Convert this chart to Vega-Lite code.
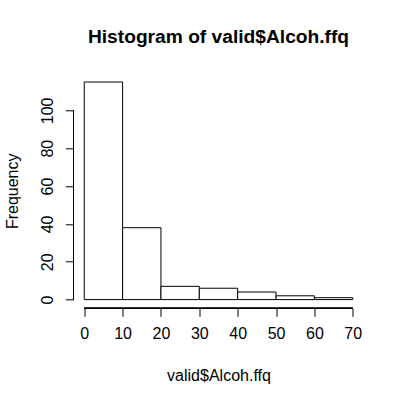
{
  "$schema": "https://vega.github.io/schema/vega-lite/v6.json",
  "width": 290,
  "height": 235,
  "autosize": "none",
  "padding": {"left": 73.5, "top": 73.3, "right": 37.5, "bottom": 91.7},
  "background": "white",
  "config": {
    "view": {"stroke": null},
    "font": "Liberation Sans",
    "axis": {
      "domain": false,
      "grid": false,
      "tickColor": "black",
      "tickWidth": 1,
      "tickSize": 8,
      "labelFont": "Liberation Sans",
      "labelFontSize": 16,
      "labelColor": "black",
      "titleFont": "Liberation Sans",
      "titleFontSize": 16,
      "titleFontWeight": "normal",
      "titleColor": "black"
    }
  },
  "title": {
    "text": "Histogram of valid$Alcoh.ffq",
    "font": "Liberation Sans",
    "fontSize": 19.2,
    "fontWeight": "bold",
    "color": "black",
    "anchor": "middle",
    "baseline": "alphabetic",
    "offset": 11
  },
  "data": {
    "values": [
      {"bin_start": 0, "bin_end": 10, "count": 115},
      {"bin_start": 10, "bin_end": 20, "count": 38},
      {"bin_start": 20, "bin_end": 30, "count": 7},
      {"bin_start": 30, "bin_end": 40, "count": 6},
      {"bin_start": 40, "bin_end": 50, "count": 4},
      {"bin_start": 50, "bin_end": 60, "count": 2},
      {"bin_start": 60, "bin_end": 70, "count": 1}
    ]
  },
  "layer": [
    {
      "mark": {"type": "rect", "fill": "white", "stroke": "black", "strokeWidth": 1},
      "encoding": {
        "x": {
          "field": "bin_start",
          "type": "quantitative",
          "scale": {"domain": [-2.8, 72.8], "nice": false, "zero": false},
          "axis": {"values": [0, 10, 20, 30, 40, 50, 60, 70], "title": "valid$Alcoh.ffq", "labelPadding": 9, "titlePadding": 26, "labelFlush": false}
        },
        "x2": {"field": "bin_end"},
        "y": {
          "field": "count",
          "type": "quantitative",
          "scale": {"domain": [-4.6, 119.6], "nice": false, "zero": false},
          "axis": {"values": [0, 20, 40, 60, 80, 100], "title": "Frequency", "labelAngle": -90, "labelAlign": "center", "labelBaseline": "bottom", "labelPadding": 10, "titlePadding": 19, "labelFlush": false}
        },
        "y2": {"datum": 0}
      }
    },
    {
      "mark": {"type": "rule", "color": "black", "strokeWidth": 1},
      "encoding": {
        "x": {"datum": 0},
        "x2": {"datum": 70},
        "y": {"datum": -4.6}
      }
    },
    {
      "mark": {"type": "rule", "color": "black", "strokeWidth": 1},
      "encoding": {
        "x": {"datum": -2.8},
        "y": {"datum": 0},
        "y2": {"datum": 100}
      }
    }
  ]
}
